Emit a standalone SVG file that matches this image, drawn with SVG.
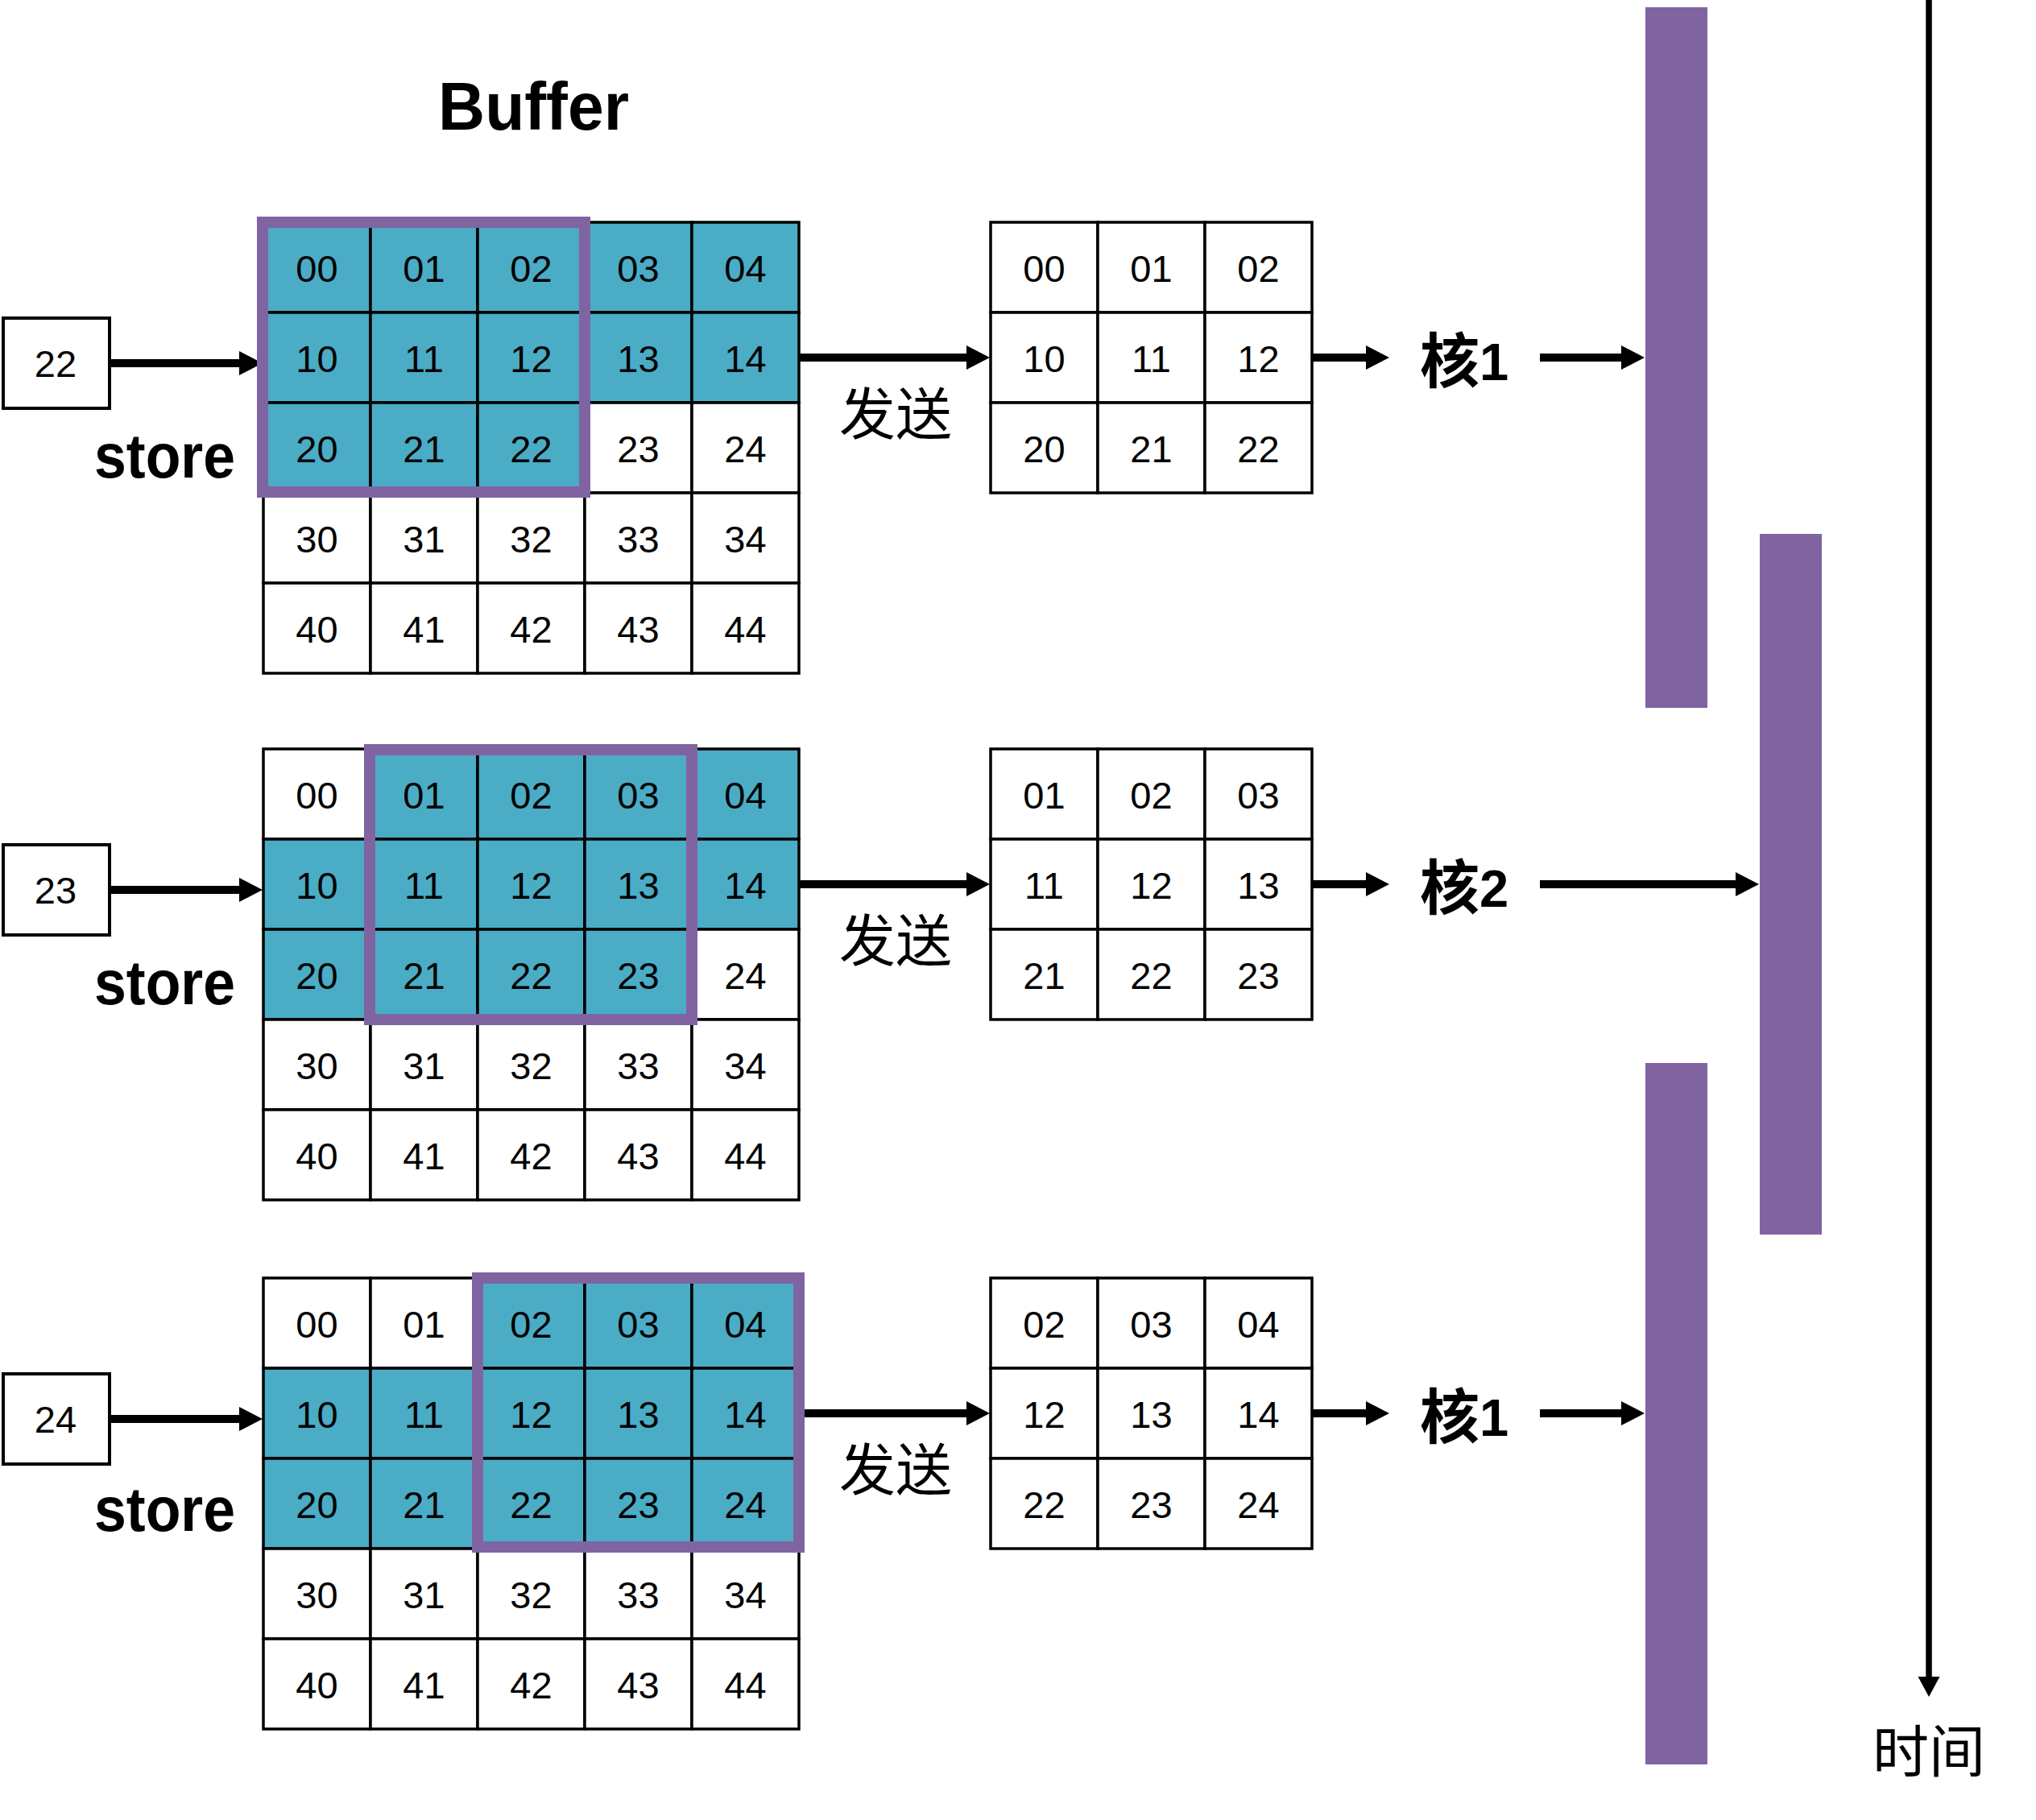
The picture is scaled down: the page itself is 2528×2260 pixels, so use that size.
<svg xmlns="http://www.w3.org/2000/svg" xmlns:xlink="http://www.w3.org/1999/xlink" width="2528" height="2260" viewBox="0 0 2528 2260">
<style>
.c{stroke:#000;stroke-width:3.5}
.w{fill:#fff}
.t{fill:#4BACC6}
.n{font-family:"Liberation Sans",Arial,sans-serif;font-size:47px;text-anchor:middle;fill:#000}
.fr{fill:none;stroke:#8064A2;stroke-width:14}
.bar{fill:#8064A2}
.ln{stroke:#000;stroke-width:10;fill:none;marker-end:url(#ah)}
.bx{fill:#fff;stroke:#000;stroke-width:4}
.st{font-family:"Liberation Sans",Arial,sans-serif;font-weight:bold;font-size:78px;fill:#000}
.cn{font-family:"Noto Sans CJK SC",sans-serif;font-size:70px;text-anchor:middle;fill:#000}
.core{font-family:"Noto Sans CJK SC",sans-serif;font-weight:bold;font-size:74px;fill:#000}
.cd{font-family:"Liberation Sans",Arial,sans-serif;font-weight:bold;font-size:65px}
</style>
<defs>
<marker id="ah" markerUnits="userSpaceOnUse" markerWidth="30" markerHeight="30" viewBox="0 0 30 30" refX="1" refY="15" orient="auto" overflow="visible"><path d="M0,0 L29,15 L0,30 z" fill="#000"/></marker>
<marker id="ahT" markerUnits="userSpaceOnUse" markerWidth="27" markerHeight="27" viewBox="0 0 27 27" refX="1" refY="13.5" orient="auto" overflow="visible"><path d="M0,0 L25,13.5 L0,27 z" fill="#000"/></marker>
</defs>
<rect width="2528" height="2260" fill="#fff"/>

<g id="title"><text x="544" y="161" font-family="Liberation Sans, Arial, sans-serif" font-weight="bold" font-size="84" textLength="237" lengthAdjust="spacingAndGlyphs">Buffer</text></g>

<!-- ROW 1 -->
<g id="buffer-1">
<rect class="c t" x="327" y="276" width="133" height="112"/><rect class="c t" x="460" y="276" width="133" height="112"/><rect class="c t" x="593" y="276" width="133" height="112"/><rect class="c t" x="726" y="276" width="133" height="112"/><rect class="c t" x="859" y="276" width="133" height="112"/>
<rect class="c t" x="327" y="388" width="133" height="112"/><rect class="c t" x="460" y="388" width="133" height="112"/><rect class="c t" x="593" y="388" width="133" height="112"/><rect class="c t" x="726" y="388" width="133" height="112"/><rect class="c t" x="859" y="388" width="133" height="112"/>
<rect class="c t" x="327" y="500" width="133" height="112"/><rect class="c t" x="460" y="500" width="133" height="112"/><rect class="c t" x="593" y="500" width="133" height="112"/><rect class="c w" x="726" y="500" width="133" height="112"/><rect class="c w" x="859" y="500" width="133" height="112"/>
<rect class="c w" x="327" y="612" width="133" height="112"/><rect class="c w" x="460" y="612" width="133" height="112"/><rect class="c w" x="593" y="612" width="133" height="112"/><rect class="c w" x="726" y="612" width="133" height="112"/><rect class="c w" x="859" y="612" width="133" height="112"/>
<rect class="c w" x="327" y="724" width="133" height="112"/><rect class="c w" x="460" y="724" width="133" height="112"/><rect class="c w" x="593" y="724" width="133" height="112"/><rect class="c w" x="726" y="724" width="133" height="112"/><rect class="c w" x="859" y="724" width="133" height="112"/>
<text class="n" x="393.5" y="350">00</text><text class="n" x="526.5" y="350">01</text><text class="n" x="659.5" y="350">02</text><text class="n" x="792.5" y="350">03</text><text class="n" x="925.5" y="350">04</text>
<text class="n" x="393.5" y="462">10</text><text class="n" x="526.5" y="462">11</text><text class="n" x="659.5" y="462">12</text><text class="n" x="792.5" y="462">13</text><text class="n" x="925.5" y="462">14</text>
<text class="n" x="393.5" y="574">20</text><text class="n" x="526.5" y="574">21</text><text class="n" x="659.5" y="574">22</text><text class="n" x="792.5" y="574">23</text><text class="n" x="925.5" y="574">24</text>
<text class="n" x="393.5" y="686">30</text><text class="n" x="526.5" y="686">31</text><text class="n" x="659.5" y="686">32</text><text class="n" x="792.5" y="686">33</text><text class="n" x="925.5" y="686">34</text>
<text class="n" x="393.5" y="798">40</text><text class="n" x="526.5" y="798">41</text><text class="n" x="659.5" y="798">42</text><text class="n" x="792.5" y="798">43</text><text class="n" x="925.5" y="798">44</text>
</g>
<g id="input-1"><rect class="bx" x="4" y="395" width="132" height="112"/><text class="n" x="69" y="468">22</text></g>
<g id="store-1"><text class="st" x="117" y="593" textLength="175" lengthAdjust="spacingAndGlyphs">store</text></g>
<g id="send-1"><text class="cn" x="1112" y="540">发送</text></g>
<g id="block-1">
<rect class="c w" x="1230" y="276" width="133" height="112"/><rect class="c w" x="1363" y="276" width="133" height="112"/><rect class="c w" x="1496" y="276" width="133" height="112"/>
<rect class="c w" x="1230" y="388" width="133" height="112"/><rect class="c w" x="1363" y="388" width="133" height="112"/><rect class="c w" x="1496" y="388" width="133" height="112"/>
<rect class="c w" x="1230" y="500" width="133" height="112"/><rect class="c w" x="1363" y="500" width="133" height="112"/><rect class="c w" x="1496" y="500" width="133" height="112"/>
<text class="n" x="1296.5" y="350">00</text><text class="n" x="1429.5" y="350">01</text><text class="n" x="1562.5" y="350">02</text>
<text class="n" x="1296.5" y="462">10</text><text class="n" x="1429.5" y="462">11</text><text class="n" x="1562.5" y="462">12</text>
<text class="n" x="1296.5" y="574">20</text><text class="n" x="1429.5" y="574">21</text><text class="n" x="1562.5" y="574">22</text>
</g>
<g id="core-1"><text class="core" x="1763" y="475">核<tspan class="cd" dy="-3">1</tspan></text></g>

<!-- ROW 2 -->
<g id="buffer-2">
<rect class="c w" x="327" y="930" width="133" height="112"/><rect class="c t" x="460" y="930" width="133" height="112"/><rect class="c t" x="593" y="930" width="133" height="112"/><rect class="c t" x="726" y="930" width="133" height="112"/><rect class="c t" x="859" y="930" width="133" height="112"/>
<rect class="c t" x="327" y="1042" width="133" height="112"/><rect class="c t" x="460" y="1042" width="133" height="112"/><rect class="c t" x="593" y="1042" width="133" height="112"/><rect class="c t" x="726" y="1042" width="133" height="112"/><rect class="c t" x="859" y="1042" width="133" height="112"/>
<rect class="c t" x="327" y="1154" width="133" height="112"/><rect class="c t" x="460" y="1154" width="133" height="112"/><rect class="c t" x="593" y="1154" width="133" height="112"/><rect class="c t" x="726" y="1154" width="133" height="112"/><rect class="c w" x="859" y="1154" width="133" height="112"/>
<rect class="c w" x="327" y="1266" width="133" height="112"/><rect class="c w" x="460" y="1266" width="133" height="112"/><rect class="c w" x="593" y="1266" width="133" height="112"/><rect class="c w" x="726" y="1266" width="133" height="112"/><rect class="c w" x="859" y="1266" width="133" height="112"/>
<rect class="c w" x="327" y="1378" width="133" height="112"/><rect class="c w" x="460" y="1378" width="133" height="112"/><rect class="c w" x="593" y="1378" width="133" height="112"/><rect class="c w" x="726" y="1378" width="133" height="112"/><rect class="c w" x="859" y="1378" width="133" height="112"/>
<text class="n" x="393.5" y="1004">00</text><text class="n" x="526.5" y="1004">01</text><text class="n" x="659.5" y="1004">02</text><text class="n" x="792.5" y="1004">03</text><text class="n" x="925.5" y="1004">04</text>
<text class="n" x="393.5" y="1116">10</text><text class="n" x="526.5" y="1116">11</text><text class="n" x="659.5" y="1116">12</text><text class="n" x="792.5" y="1116">13</text><text class="n" x="925.5" y="1116">14</text>
<text class="n" x="393.5" y="1228">20</text><text class="n" x="526.5" y="1228">21</text><text class="n" x="659.5" y="1228">22</text><text class="n" x="792.5" y="1228">23</text><text class="n" x="925.5" y="1228">24</text>
<text class="n" x="393.5" y="1340">30</text><text class="n" x="526.5" y="1340">31</text><text class="n" x="659.5" y="1340">32</text><text class="n" x="792.5" y="1340">33</text><text class="n" x="925.5" y="1340">34</text>
<text class="n" x="393.5" y="1452">40</text><text class="n" x="526.5" y="1452">41</text><text class="n" x="659.5" y="1452">42</text><text class="n" x="792.5" y="1452">43</text><text class="n" x="925.5" y="1452">44</text>
</g>
<g id="input-2"><rect class="bx" x="4" y="1049" width="132" height="112"/><text class="n" x="69" y="1122">23</text></g>
<g id="store-2"><text class="st" x="117" y="1247" textLength="175" lengthAdjust="spacingAndGlyphs">store</text></g>
<g id="send-2"><text class="cn" x="1112" y="1194">发送</text></g>
<g id="block-2">
<rect class="c w" x="1230" y="930" width="133" height="112"/><rect class="c w" x="1363" y="930" width="133" height="112"/><rect class="c w" x="1496" y="930" width="133" height="112"/>
<rect class="c w" x="1230" y="1042" width="133" height="112"/><rect class="c w" x="1363" y="1042" width="133" height="112"/><rect class="c w" x="1496" y="1042" width="133" height="112"/>
<rect class="c w" x="1230" y="1154" width="133" height="112"/><rect class="c w" x="1363" y="1154" width="133" height="112"/><rect class="c w" x="1496" y="1154" width="133" height="112"/>
<text class="n" x="1296.5" y="1004">01</text><text class="n" x="1429.5" y="1004">02</text><text class="n" x="1562.5" y="1004">03</text>
<text class="n" x="1296.5" y="1116">11</text><text class="n" x="1429.5" y="1116">12</text><text class="n" x="1562.5" y="1116">13</text>
<text class="n" x="1296.5" y="1228">21</text><text class="n" x="1429.5" y="1228">22</text><text class="n" x="1562.5" y="1228">23</text>
</g>
<g id="core-2"><text class="core" x="1763" y="1129">核<tspan class="cd" dy="-3">2</tspan></text></g>

<!-- ROW 3 -->
<g id="buffer-3">
<rect class="c w" x="327" y="1587" width="133" height="112"/><rect class="c w" x="460" y="1587" width="133" height="112"/><rect class="c t" x="593" y="1587" width="133" height="112"/><rect class="c t" x="726" y="1587" width="133" height="112"/><rect class="c t" x="859" y="1587" width="133" height="112"/>
<rect class="c t" x="327" y="1699" width="133" height="112"/><rect class="c t" x="460" y="1699" width="133" height="112"/><rect class="c t" x="593" y="1699" width="133" height="112"/><rect class="c t" x="726" y="1699" width="133" height="112"/><rect class="c t" x="859" y="1699" width="133" height="112"/>
<rect class="c t" x="327" y="1811" width="133" height="112"/><rect class="c t" x="460" y="1811" width="133" height="112"/><rect class="c t" x="593" y="1811" width="133" height="112"/><rect class="c t" x="726" y="1811" width="133" height="112"/><rect class="c t" x="859" y="1811" width="133" height="112"/>
<rect class="c w" x="327" y="1923" width="133" height="112"/><rect class="c w" x="460" y="1923" width="133" height="112"/><rect class="c w" x="593" y="1923" width="133" height="112"/><rect class="c w" x="726" y="1923" width="133" height="112"/><rect class="c w" x="859" y="1923" width="133" height="112"/>
<rect class="c w" x="327" y="2035" width="133" height="112"/><rect class="c w" x="460" y="2035" width="133" height="112"/><rect class="c w" x="593" y="2035" width="133" height="112"/><rect class="c w" x="726" y="2035" width="133" height="112"/><rect class="c w" x="859" y="2035" width="133" height="112"/>
<text class="n" x="393.5" y="1661">00</text><text class="n" x="526.5" y="1661">01</text><text class="n" x="659.5" y="1661">02</text><text class="n" x="792.5" y="1661">03</text><text class="n" x="925.5" y="1661">04</text>
<text class="n" x="393.5" y="1773">10</text><text class="n" x="526.5" y="1773">11</text><text class="n" x="659.5" y="1773">12</text><text class="n" x="792.5" y="1773">13</text><text class="n" x="925.5" y="1773">14</text>
<text class="n" x="393.5" y="1885">20</text><text class="n" x="526.5" y="1885">21</text><text class="n" x="659.5" y="1885">22</text><text class="n" x="792.5" y="1885">23</text><text class="n" x="925.5" y="1885">24</text>
<text class="n" x="393.5" y="1997">30</text><text class="n" x="526.5" y="1997">31</text><text class="n" x="659.5" y="1997">32</text><text class="n" x="792.5" y="1997">33</text><text class="n" x="925.5" y="1997">34</text>
<text class="n" x="393.5" y="2109">40</text><text class="n" x="526.5" y="2109">41</text><text class="n" x="659.5" y="2109">42</text><text class="n" x="792.5" y="2109">43</text><text class="n" x="925.5" y="2109">44</text>
</g>
<g id="input-3"><rect class="bx" x="4" y="1706" width="132" height="112"/><text class="n" x="69" y="1779">24</text></g>
<g id="store-3"><text class="st" x="117" y="1901" textLength="175" lengthAdjust="spacingAndGlyphs">store</text></g>
<g id="send-3"><text class="cn" x="1112" y="1851">发送</text></g>
<g id="block-3">
<rect class="c w" x="1230" y="1587" width="133" height="112"/><rect class="c w" x="1363" y="1587" width="133" height="112"/><rect class="c w" x="1496" y="1587" width="133" height="112"/>
<rect class="c w" x="1230" y="1699" width="133" height="112"/><rect class="c w" x="1363" y="1699" width="133" height="112"/><rect class="c w" x="1496" y="1699" width="133" height="112"/>
<rect class="c w" x="1230" y="1811" width="133" height="112"/><rect class="c w" x="1363" y="1811" width="133" height="112"/><rect class="c w" x="1496" y="1811" width="133" height="112"/>
<text class="n" x="1296.5" y="1661">02</text><text class="n" x="1429.5" y="1661">03</text><text class="n" x="1562.5" y="1661">04</text>
<text class="n" x="1296.5" y="1773">12</text><text class="n" x="1429.5" y="1773">13</text><text class="n" x="1562.5" y="1773">14</text>
<text class="n" x="1296.5" y="1885">22</text><text class="n" x="1429.5" y="1885">23</text><text class="n" x="1562.5" y="1885">24</text>
</g>
<g id="core-3"><text class="core" x="1763" y="1786">核<tspan class="cd" dy="-3">1</tspan></text></g>

<!-- timeline bars -->
<g id="bar-1"><rect class="bar" x="2043" y="9" width="77" height="870"/></g>
<g id="bar-2"><rect class="bar" x="2185" y="663" width="77" height="870"/></g>
<g id="bar-3"><rect class="bar" x="2043" y="1320" width="77" height="871"/></g>
<g id="time-label"><text class="cn" x="2395" y="2201" font-size="72">时间</text></g>

<g id="connectors">
<line class="ln" x1="137" y1="451" x2="298" y2="451"/>
<line class="ln" x1="991" y1="444" x2="1201" y2="444"/>
<line class="ln" x1="1629" y1="444" x2="1697" y2="444"/>
<line class="ln" x1="1912" y1="444" x2="2014" y2="444"/>
<line class="ln" x1="137" y1="1105" x2="298" y2="1105"/>
<line class="ln" x1="991" y1="1098" x2="1201" y2="1098"/>
<line class="ln" x1="1629" y1="1098" x2="1697" y2="1098"/>
<line class="ln" x1="1912" y1="1098" x2="2156" y2="1098"/>
<line class="ln" x1="137" y1="1762" x2="298" y2="1762"/>
<line class="ln" x1="992" y1="1755" x2="1201" y2="1755"/>
<line class="ln" x1="1629" y1="1755" x2="1697" y2="1755"/>
<line class="ln" x1="1912" y1="1755" x2="2014" y2="1755"/>
<line x1="2395" y1="0" x2="2395" y2="2083" stroke="#000" stroke-width="7.5" marker-end="url(#ahT)"/>
</g>

<g id="windows">
<rect class="fr" x="326" y="276" width="400" height="335"/>
<rect class="fr" x="459" y="931" width="400" height="335"/>
<rect class="fr" x="593" y="1587" width="399" height="334"/>
</g>
</svg>
